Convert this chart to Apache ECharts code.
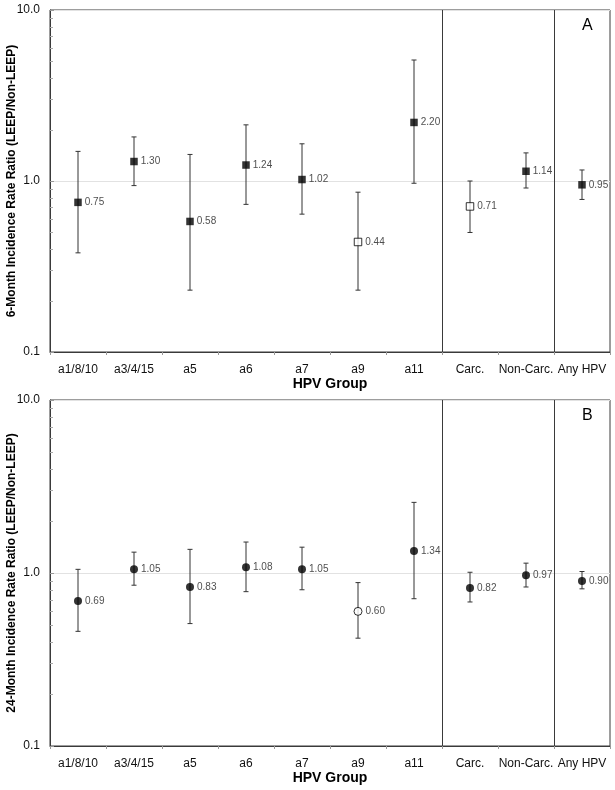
<!DOCTYPE html>
<html>
<head>
<meta charset="utf-8">
<script src="https://cdn.jsdelivr.net/npm/echarts@6/dist/echarts.min.js"></script>
<style>html,body{margin:0;padding:0;background:#fff;}#c{width:615px;height:790px;}</style>
</head>
<body>
<div id="c"></div>
<script>
const categories = ['a1/8/10','a3/4/15','a5','a6','a7','a9','a11','Carc.','Non-Carc.','Any HPV'];
const rr6  = [0.75,1.30,0.58,1.24,1.02,0.44,2.20,0.71,1.14,0.95];
const lo6  = [0.38,0.94,0.23,0.73,0.64,0.23,0.97,0.50,0.91,0.78];
const hi6  = [1.49,1.81,1.43,2.13,1.65,0.86,5.10,1.00,1.46,1.16];
const hollow6 = [false,false,false,false,false,true,false,true,false,false];
const rr24 = [0.69,1.05,0.83,1.08,1.05,0.60,1.34,0.82,0.97,0.90];
const lo24 = [0.46,0.85,0.51,0.78,0.80,0.42,0.71,0.68,0.83,0.81];
const hi24 = [1.05,1.32,1.37,1.51,1.41,0.88,2.56,1.01,1.14,1.02];
const hollow24 = [false,false,false,false,false,true,false,false,false,false];
const separatorsAfter = [6, 8];
const minorTickValues = [0.2,0.3,0.4,0.5,0.6,0.7,0.8,0.9,2,3,4,5,6,7,8,9];
const yNames = ['6-Month Incidence Rate Ratio (LEEP/Non-LEEP)','24-Month Incidence Rate Ratio (LEEP/Non-LEEP)'];
const panelLetters = ['A','B'];

const chart = echarts.init(document.getElementById('c'), null, {renderer:'canvas'});
const FONT = 'Liberation Sans, Arial, sans-serif';
const AX = '#3a3a3a';

const grids = [
  {left:50, top:10, width:560, height:342, show:true, borderColor:AX, borderWidth:1, backgroundColor:'transparent', containLabel:false, outerBoundsMode:'none'},
  {left:50, top:400, width:560, height:346, show:true, borderColor:AX, borderWidth:1, backgroundColor:'transparent', containLabel:false, outerBoundsMode:'none'}
];

function xAxisFor(i){
  return {
    type:'category', gridIndex:i, data:categories, boundaryGap:true,
    name:'HPV Group', nameLocation:'middle', nameGap:25, nameMoveOverlap:false,
    nameTextStyle:{fontFamily:FONT, fontWeight:'bold', fontSize:14, color:'#000'},
    axisLine:{lineStyle:{color:AX, width:1}},
    axisTick:{show:true, interval:0, length:3, lineStyle:{color:'#999'}},
    axisLabel:{interval:0, hideOverlap:false, fontFamily:FONT, fontSize:12, color:'#111', margin:12},
    splitLine:{show:false}
  };
}
function yAxisFor(i){
  return {
    type:'log', logBase:10, gridIndex:i, min:0.1, max:10,
    name:yNames[i], nameLocation:'middle', nameGap:32, nameMoveOverlap:false,
    nameTextStyle:{fontFamily:FONT, fontWeight:'bold', fontSize:12, color:'#000'},
    axisLine:{show:true, lineStyle:{color:AX, width:1}},
    axisTick:{show:true, inside:true, length:4, lineStyle:{color:'#999'}},
    axisLabel:{fontFamily:FONT, fontSize:12, color:'#111', margin:10, formatter:v=>Number(v).toFixed(1)},
    splitLine:{show:true, lineStyle:{color:'#e2e2e2', width:1}}
  };
}

function errorSeries(i, lo, hi){
  return {
    type:'custom', xAxisIndex:i, yAxisIndex:i, z:2,
    data: lo.map((v,k)=>[k, v, hi[k]]),
    encode:{x:0, y:[1,2]},
    renderItem:function(params, api){
      const a = api.coord([api.value(0), api.value(1)]);
      const b = api.coord([api.value(0), api.value(2)]);
      const cw = 2.5;
      const st = {stroke:'#333', lineWidth:1};
      return {type:'group', children:[
        {type:'line', shape:{x1:a[0], y1:a[1], x2:b[0], y2:b[1]}, style:st},
        {type:'line', shape:{x1:a[0]-cw, y1:a[1], x2:a[0]+cw, y2:a[1]}, style:st},
        {type:'line', shape:{x1:b[0]-cw, y1:b[1], x2:b[0]+cw, y2:b[1]}, style:st}
      ]};
    }
  };
}
function pointSeries(i, rr, hollow, symbol){
  return {
    type:'scatter', xAxisIndex:i, yAxisIndex:i, z:5,
    symbol:symbol, symbolSize: symbol==='rect' ? 7.5 : 8,
    data: rr.map((v,k)=>({value:[k, v], itemStyle: hollow[k] ? {color:'#fff', borderColor:'#000', borderWidth:1} : {color:'#000', borderColor:'#000', borderWidth:0}})),
    label:{show:true, position:'right', distance:3, fontFamily:FONT, fontSize:10, color:'#222',
      formatter:p=>p.value[1].toFixed(2)},
    emphasis:{disabled:true}
  };
}
function separatorSeries(i){
  return {
    type:'custom', xAxisIndex:i, yAxisIndex:i, z:3, silent:true,
    data: separatorsAfter.map(k=>[k, 1]),
    renderItem:function(params, api){
      const c = api.coord([api.value(0), 1]);
      const bw = api.size([1, 0])[0];
      const x = Math.round(c[0] + bw/2) + 0.5;
      const cs = params.coordSys;
      return {type:'line', shape:{x1:x, y1:cs.y, x2:x, y2:cs.y+cs.height}, style:{stroke:AX, lineWidth:1}};
    }
  };
}
function minorTickSeries(i){
  return {
    type:'custom', xAxisIndex:i, yAxisIndex:i, z:3, silent:true,
    data: minorTickValues.map(v=>[0, v]),
    renderItem:function(params, api){
      const p = api.coord([0, api.value(1)]);
      const cs = params.coordSys;
      const y = Math.round(p[1]) + 0.5;
      return {type:'line', shape:{x1:cs.x, y1:y, x2:cs.x+3, y2:y}, style:{stroke:'#aaa', lineWidth:1}};
    }
  };
}

const option = {
  animation:false,
  backgroundColor:'#fff',
  grid: grids,
  xAxis:[xAxisFor(0), xAxisFor(1)],
  yAxis:[yAxisFor(0), yAxisFor(1)],
  graphic:[
    {type:'text', left:582, top:18, style:{text:panelLetters[0], fontFamily:FONT, fontSize:16, fill:'#000'}},
    {type:'text', left:582, top:408, style:{text:panelLetters[1], fontFamily:FONT, fontSize:16, fill:'#000'}}
  ],
  series:[
    separatorSeries(0), minorTickSeries(0), errorSeries(0, lo6, hi6), pointSeries(0, rr6, hollow6, 'rect'),
    separatorSeries(1), minorTickSeries(1), errorSeries(1, lo24, hi24), pointSeries(1, rr24, hollow24, 'circle')
  ]
};
chart.setOption(option);
</script>
</body>
</html>
